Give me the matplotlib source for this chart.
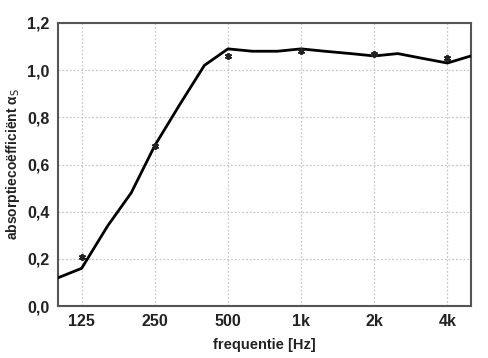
import numpy as np
import matplotlib.pyplot as plt

plt.rcParams['font.family'] = ['Liberation Sans', 'DejaVu Sans']

# 1/3 octave band curve
freq = [100, 125, 160, 200, 250, 315, 400, 500, 630, 800, 1000, 1250, 1600, 2000, 2500, 3150, 4000, 5000]
alpha = [0.12, 0.16, 0.34, 0.48, 0.68, 0.85, 1.02, 1.09, 1.08, 1.08, 1.09, 1.08, 1.07, 1.06, 1.07, 1.05, 1.03, 1.06]

# octave band markers
oct_freq = [125, 250, 500, 1000, 2000, 4000]
oct_alpha = [0.21, 0.68, 1.06, 1.08, 1.07, 1.05]
oct_labels = ['125', '250', '500', '1k', '2k', '4k']

yticks = [0.0, 0.2, 0.4, 0.6, 0.8, 1.0, 1.2]
ylabels = ['0,0', '0,2', '0,4', '0,6', '0,8', '1,0', '1,2']

fig = plt.figure(figsize=(4.88, 3.58), dpi=100)
ax = fig.add_axes([0.119, 0.145, 0.846, 0.791])

ax.plot(freq, alpha, color='black', lw=2, zorder=3)
ax.plot(oct_freq, oct_alpha, ls='none', marker=(6, 2, 0), color='#222222',
        ms=5, mew=1.3, zorder=4)

ax.set_xscale('log')
ax.set_xlim(100, 5000)
ax.set_ylim(0, 1.2)
ax.set_xticks(oct_freq)
ax.set_xticklabels(oct_labels)
ax.minorticks_off()
ax.set_yticks(yticks)
ax.set_yticklabels(ylabels)
ax.tick_params(length=0, pad=6, labelsize=11.5)
for lab in ax.get_xticklabels() + ax.get_yticklabels():
    lab.set_fontweight('bold')
    lab.set_color('#222222')

ax.grid(True, color='#c8c8c8', ls=(0, (1.5, 1.5)), lw=0.9)
for s in ax.spines.values():
    s.set_color('#555555')
    s.set_linewidth(1.5)

ax.set_xlabel('frequentie [Hz]', fontsize=10.5, fontweight='bold', color='#222222', labelpad=6)
ax.set_ylabel('absorptiecoëfficiënt α$_\\mathrm{S}$', fontsize=10, fontweight='bold',
              color='#222222', labelpad=4)

fig.savefig('out.png', dpi=100)
